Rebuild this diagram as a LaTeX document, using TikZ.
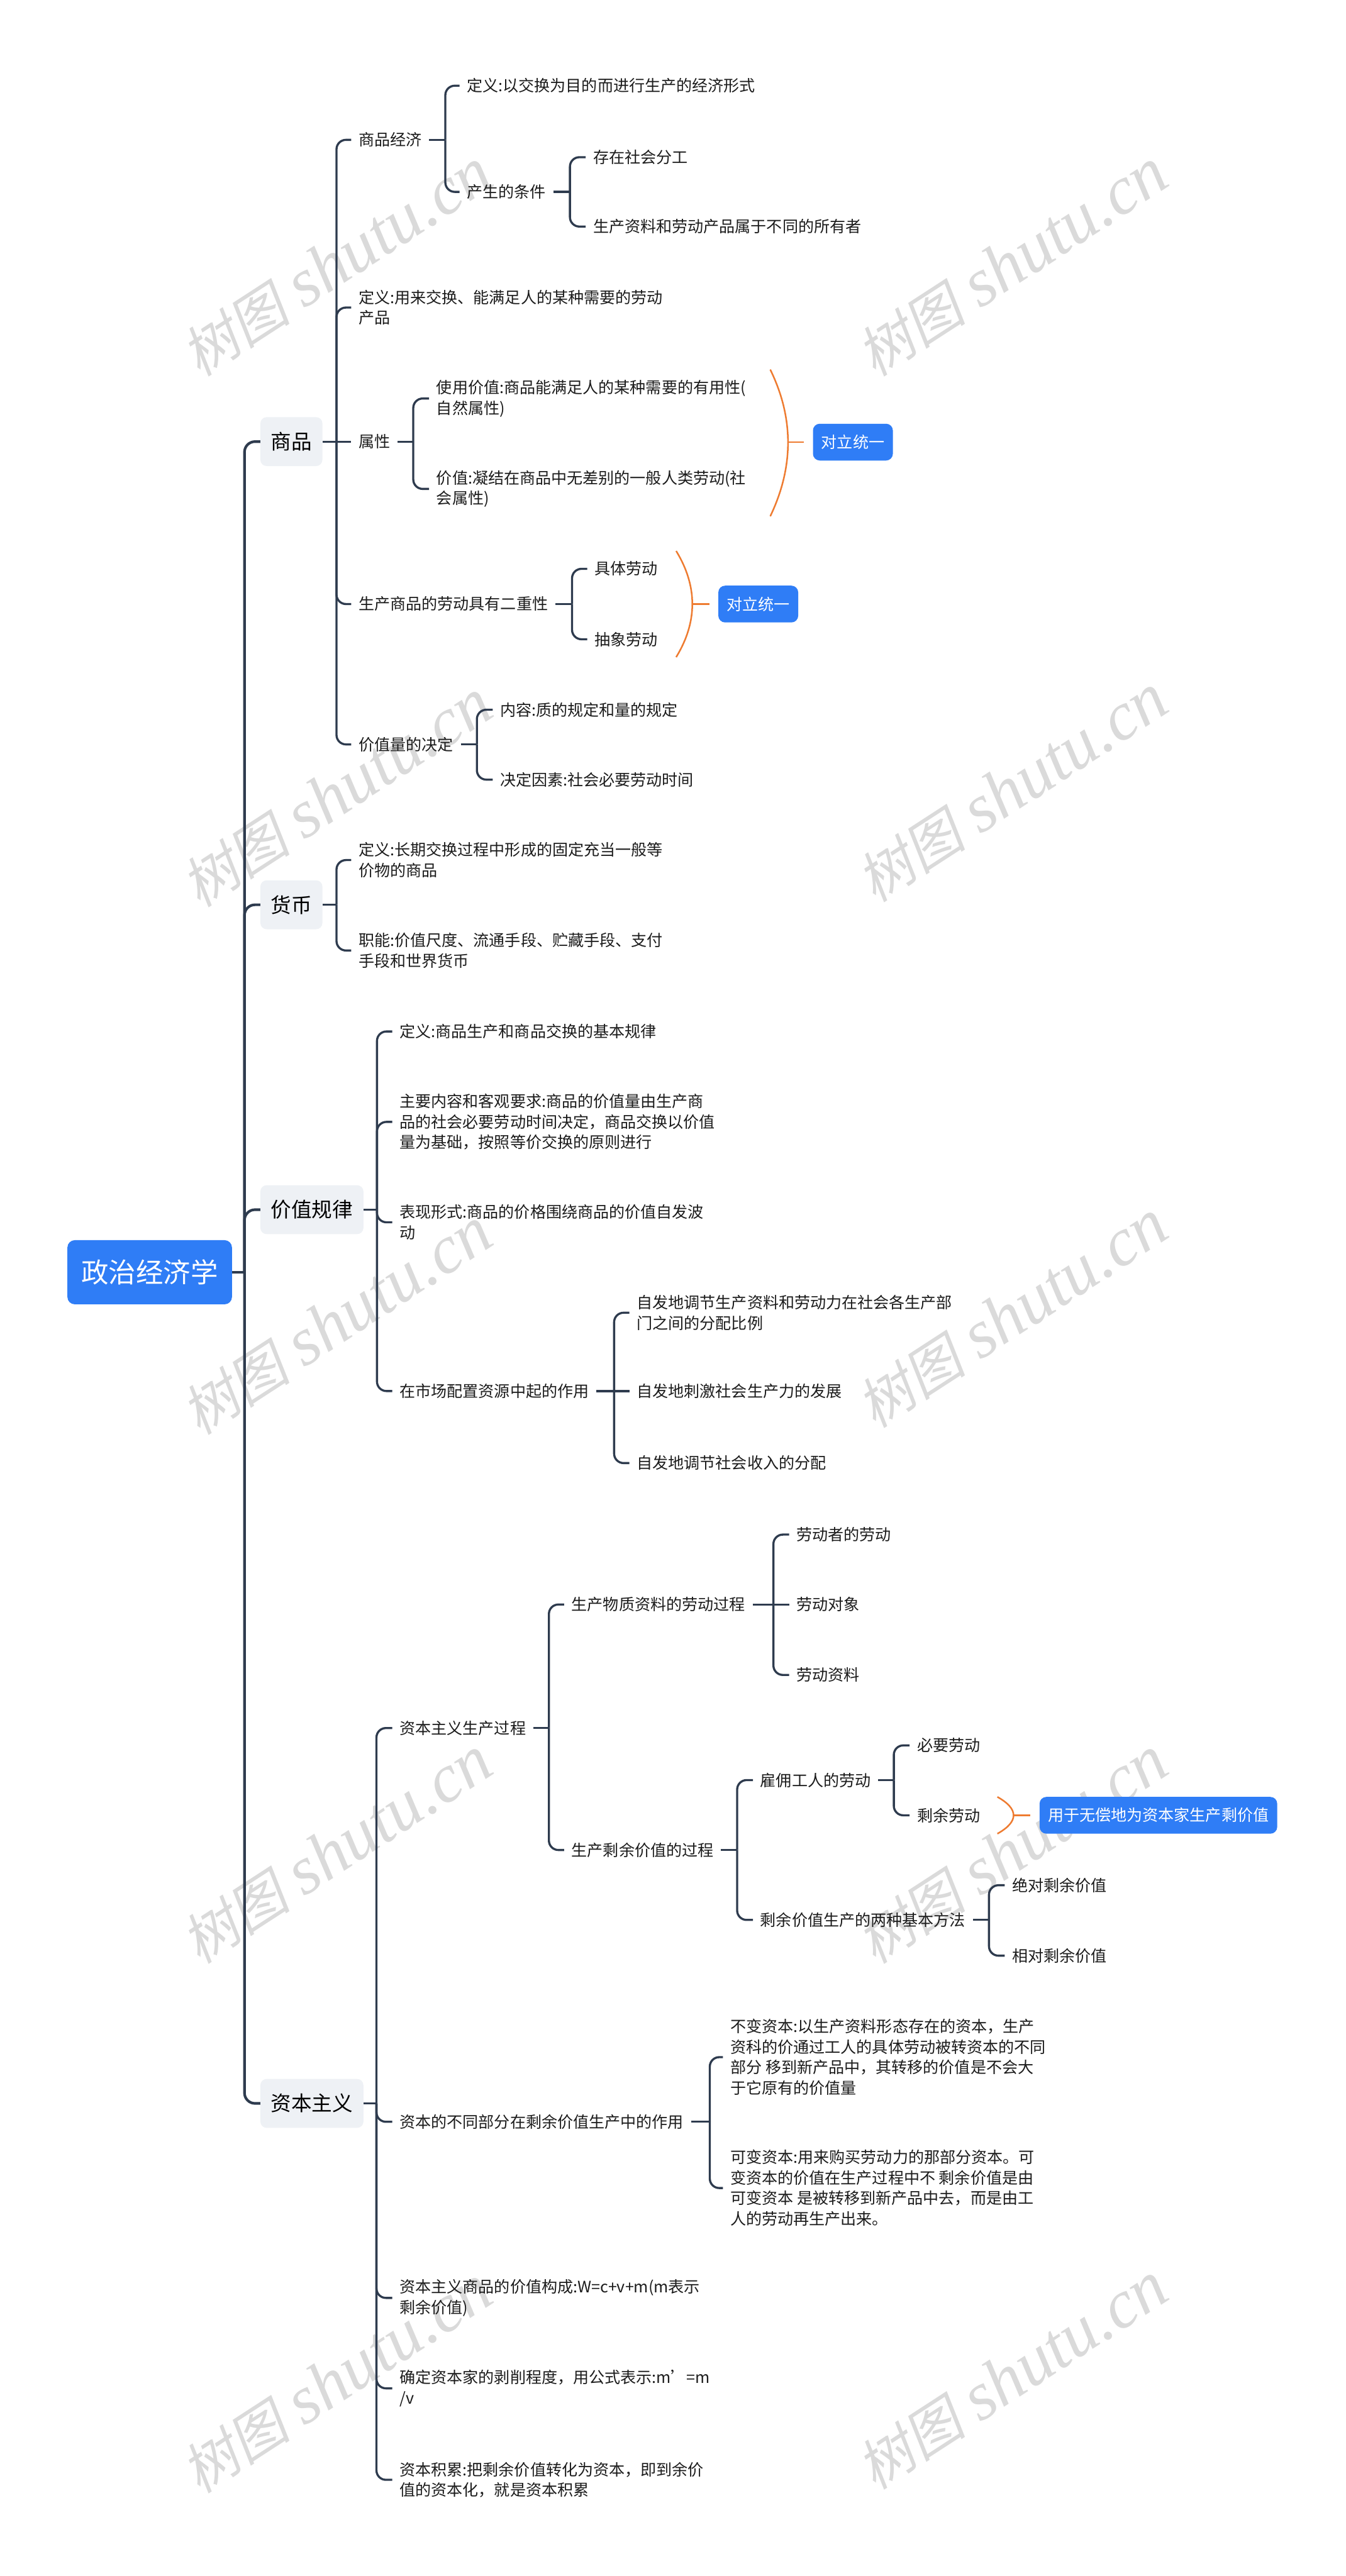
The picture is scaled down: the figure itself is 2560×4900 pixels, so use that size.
\documentclass[tikz,border=0pt]{standalone}
\usepackage{fontspec}
\setmainfont{Noto Sans CJK SC}
\newfontfamily\wmcjk[FakeSlant=0.2]{Noto Sans CJK SC}
\newfontfamily\wmlat{Liberation Serif}
\definecolor{linec}{HTML}{2E3B4E}
\definecolor{blueb}{HTML}{2F7DF6}
\definecolor{graybox}{HTML}{EEF1F5}
\definecolor{orangec}{HTML}{EE7B30}
\definecolor{txt}{HTML}{1C1C1C}
\definecolor{wm}{HTML}{DADADA}
\tikzset{
  leaf/.style={anchor=west, inner xsep=14pt, inner ysep=0pt, font=\fontsize{30}{39}\selectfont, text=txt, align=left},
  l1box/.style={anchor=west, fill=graybox, rounded corners=12pt, inner xsep=20pt, inner ysep=0pt, minimum height=93pt, font=\fontsize{39}{45}\selectfont, text=black},
  rootbox/.style={anchor=west, fill=blueb, text=white, rounded corners=14pt, minimum width=313pt, minimum height=122pt, inner sep=0pt, font=\fontsize{52}{60}\selectfont},
  bluebox/.style={anchor=west, fill=blueb, text=white, rounded corners=13pt, minimum height=70pt, inner xsep=16pt, inner ysep=0pt, font=\fontsize{30}{36}\selectfont},
  conn/.style={draw=linec, line width=4pt, rounded corners=18pt},
  trunk/.style={draw=linec, line width=5pt, rounded corners=20pt},
  brk/.style={draw=orangec, line width=3pt},
  wmark/.style={text=wm, inner sep=0pt, rotate=33}
}
\newcommand{\wmtext}{{\wmcjk\fontsize{105}{110}\selectfont 树图}\hspace{28pt}{\wmlat\itshape\fontsize{130}{130}\selectfont shutu.cn}}
\begin{document}
\begin{tikzpicture}[x=1pt,y=-1pt]
\fill[white] (0,0) rectangle (2560,4900);
\useasboundingbox (0,0) rectangle (2560,4900);
% watermarks
\node[wmark] (w1) at (640,500) {\wmtext};
\node[wmark] (w2) at (1925,500) {\wmtext};
\node[wmark] (w3) at (640,1510) {\wmtext};
\node[wmark] (w4) at (1925,1500) {\wmtext};
\node[wmark] (w5) at (640,2514) {\wmtext};
\node[wmark] (w6) at (1925,2500) {\wmtext};
\node[wmark] (w7) at (640,3520) {\wmtext};
\node[wmark] (w8) at (1925,3520) {\wmtext};
\node[wmark] (w9) at (640,4527) {\wmtext};
\node[wmark] (w10) at (1925,4520) {\wmtext};

% root and level 1
\node[rootbox] (root) at (128,2420) {政治经济学};
\node[l1box] (A) at (495,840) {商品};
\node[l1box] (B) at (495,1721) {货币};
\node[l1box] (C) at (495,2301) {价值规律};
\node[l1box] (D) at (495,4001) {资本主义};

% 商品
\node[leaf] (A1) at (668,266) {商品经济};
\node[leaf] (A1a) at (874,163) {定义:以交换为目的而进行生产的经济形式};
\node[leaf] (A1b) at (874,365) {产生的条件};
\node[leaf] (A1b1) at (1114,299) {存在社会分工};
\node[leaf] (A1b2) at (1114,431) {生产资料和劳动产品属于不同的所有者};
\node[leaf] (A2) at (668,585) {定义:用来交换、能满足人的某种需要的劳动\\产品};
\node[leaf] (A3) at (668,840) {属性};
\node[leaf] (A3a) at (816,758) {使用价值:商品能满足人的某种需要的有用性(\\自然属性)};
\node[leaf] (A3b) at (816,930) {价值:凝结在商品中无差别的一般人类劳动(社\\会属性)};
\node[leaf] (A4) at (668,1149) {生产商品的劳动具有二重性};
\node[leaf] (A4a) at (1117,1082) {具体劳动};
\node[leaf] (A4b) at (1117,1216) {抽象劳动};
\node[leaf] (A5) at (668,1416) {价值量的决定};
\node[leaf] (A5a) at (937,1350) {内容:质的规定和量的规定};
\node[leaf] (A5b) at (937,1483) {决定因素:社会必要劳动时间};
\node[bluebox] (U1) at (1546,841) {对立统一};
\node[bluebox] (U2) at (1366,1149) {对立统一};

% 货币
\node[leaf] (B1) at (668,1636) {定义:长期交换过程中形成的固定充当一般等\\价物的商品};
\node[leaf] (B2) at (668,1808) {职能:价值尺度、流通手段、贮藏手段、支付\\手段和世界货币};

% 价值规律
\node[leaf] (C1) at (746,1962) {定义:商品生产和商品交换的基本规律};
\node[leaf] (C2) at (746,2134) {主要内容和客观要求:商品的价值量由生产商\\品的社会必要劳动时间决定，商品交换以价值\\量为基础，按照等价交换的原则进行};
\node[leaf] (C3) at (746,2325) {表现形式:商品的价格围绕商品的价值自发波\\动};
\node[leaf] (C4) at (746,2646) {在市场配置资源中起的作用};
\node[leaf] (C4a) at (1197,2497) {自发地调节生产资料和劳动力在社会各生产部\\门之间的分配比例};
\node[leaf] (C4b) at (1197,2646) {自发地刺激社会生产力的发展};
\node[leaf] (C4c) at (1197,2783) {自发地调节社会收入的分配};

% 资本主义
\node[leaf] (D1) at (746,3287) {资本主义生产过程};
\node[leaf] (D1a) at (1073,3052) {生产物质资料的劳动过程};
\node[leaf] (D1a1) at (1501,2919) {劳动者的劳动};
\node[leaf] (D1a2) at (1501,3052) {劳动对象};
\node[leaf] (D1a3) at (1501,3186) {劳动资料};
\node[leaf] (D1b) at (1073,3519) {生产剩余价值的过程};
\node[leaf] (D1b1) at (1432,3386) {雇佣工人的劳动};
\node[leaf] (D1b1a) at (1730,3320) {必要劳动};
\node[leaf] (D1b1b) at (1730,3453) {剩余劳动};
\node[bluebox] (U3) at (1977,3453) {用于无偿地为资本家生产剩价值};
\node[leaf] (D1b2) at (1432,3652) {剩余价值生产的两种基本方法};
\node[leaf] (D1b2a) at (1911,3586) {绝对剩余价值};
\node[leaf] (D1b2b) at (1911,3720) {相对剩余价值};
\node[leaf] (D2) at (746,4036) {资本的不同部分在剩余价值生产中的作用};
\node[leaf] (D2a) at (1375,3913) {不变资本:以生产资料形态存在的资本，生产\\资科的价通过工人的具体劳动被转资本的不同\\部分 移到新产品中，其转移的价值是不会大\\于它原有的价值量};
\node[leaf] (D2b) at (1375,4162) {可变资本:用来购买劳动力的那部分资本。可\\变资本的价值在生产过程中不 剩余价值是由\\可变资本 是被转移到新产品中去，而是由工\\人的劳动再生产出来。};
\node[leaf] (D3) at (746,4371) {资本主义商品的价值构成:W=c+v+m(m表示\\剩余价值)};
\node[leaf] (D4) at (746,4543) {确定资本家的剥削程度，用公式表示:m’=m\\/v};
\node[leaf] (D5) at (746,4717) {资本积累:把剩余价值转化为资本，即到余价\\值的资本化，就是资本积累};

% trunk coordinates
\coordinate (tR) at (465,2420);
\coordinate (tA) at (640,840);
\coordinate (tA1) at (847,266);
\coordinate (tA1b) at (1084,365);
\coordinate (tA3) at (786,840);
\coordinate (tA4) at (1088,1149);
\coordinate (tA5) at (907,1416);
\coordinate (tB) at (640,1721);
\coordinate (tC) at (717,2301);
\coordinate (tC4) at (1168,2646);
\coordinate (tD) at (716,4001);
\coordinate (tD1) at (1044,3287);
\coordinate (tD1a) at (1471,3052);
\coordinate (tD1b) at (1402,3519);
\coordinate (tD1b1) at (1700,3386);
\coordinate (tD1b2) at (1881,3652);
\coordinate (tD2) at (1350,4036);

% main trunk
\draw[trunk] (root.east) -- (tR);
\foreach \n in {A,B,C,D} \draw[trunk] (tR) |- (\n.west);

% 商品
\draw[conn] (A.east) -- (tA);
\foreach \n in {A1,A2,A4,A5} \draw[conn] (tA) |- (\n.west);
\draw[conn] (tA) -- (A3.west);
\draw[conn] (A1.east) -- (tA1);
\foreach \n in {A1a,A1b} \draw[conn] (tA1) |- (\n.west);
\draw[conn] (A1b.east) -- (tA1b);
\foreach \n in {A1b1,A1b2} \draw[conn] (tA1b) |- (\n.west);
\draw[conn] (A3.east) -- (tA3);
\foreach \n in {A3a,A3b} \draw[conn] (tA3) |- (\n.west);
\draw[conn] (A4.east) -- (tA4);
\foreach \n in {A4a,A4b} \draw[conn] (tA4) |- (\n.west);
\draw[conn] (A5.east) -- (tA5);
\foreach \n in {A5a,A5b} \draw[conn] (tA5) |- (\n.west);

% 货币
\draw[conn] (B.east) -- (tB);
\foreach \n in {B1,B2} \draw[conn] (tB) |- (\n.west);

% 价值规律
\draw[conn] (C.east) -- (tC);
\foreach \n in {C1,C2,C3,C4} \draw[conn] (tC) |- (\n.west);
\draw[conn] (C4.east) -- (tC4);
\foreach \n in {C4a,C4c} \draw[conn] (tC4) |- (\n.west);
\draw[conn] (tC4) -- (C4b.west);

% 资本主义
\draw[conn] (D.east) -- (tD);
\foreach \n in {D1,D2,D3,D4,D5} \draw[conn] (tD) |- (\n.west);
\draw[conn] (D1.east) -- (tD1);
\foreach \n in {D1a,D1b} \draw[conn] (tD1) |- (\n.west);
\draw[conn] (D1a.east) -- (tD1a);
\foreach \n in {D1a1,D1a3} \draw[conn] (tD1a) |- (\n.west);
\draw[conn] (tD1a) -- (D1a2.west);
\draw[conn] (D1b.east) -- (tD1b);
\foreach \n in {D1b1,D1b2} \draw[conn] (tD1b) |- (\n.west);
\draw[conn] (D1b1.east) -- (tD1b1);
\foreach \n in {D1b1a,D1b1b} \draw[conn] (tD1b1) |- (\n.west);
\draw[conn] (D1b2.east) -- (tD1b2);
\foreach \n in {D1b2a,D1b2b} \draw[conn] (tD1b2) |- (\n.west);
\draw[conn] (D2.east) -- (tD2);
\foreach \n in {D2a,D2b} \draw[conn] (tD2) |- (\n.west);

% summary brackets
\coordinate (bt1) at (1465,703);
\coordinate (bm1) at (1499,841);
\coordinate (bb1) at (1465,982);
\draw[brk] (bt1) .. controls (1510,795) and (1510,888) .. (bb1);
\draw[brk] (bm1) -- ([xshift=-17pt]U1.west);
\coordinate (bt2) at (1286,1048);
\coordinate (bm2) at (1317,1149);
\coordinate (bb2) at (1286,1250);
\draw[brk] (bt2) .. controls (1327,1115) and (1327,1183) .. (bb2);
\draw[brk] (bm2) -- ([xshift=-17pt]U2.west);
\coordinate (bt3) at (1897,3418);
\coordinate (bm3) at (1928,3453);
\coordinate (bb3) at (1897,3488);
\draw[brk] (bt3) .. controls (1938,3441) and (1938,3465) .. (bb3);
\draw[brk] (bm3) -- ([xshift=-17pt]U3.west);
\end{tikzpicture}
\end{document}
